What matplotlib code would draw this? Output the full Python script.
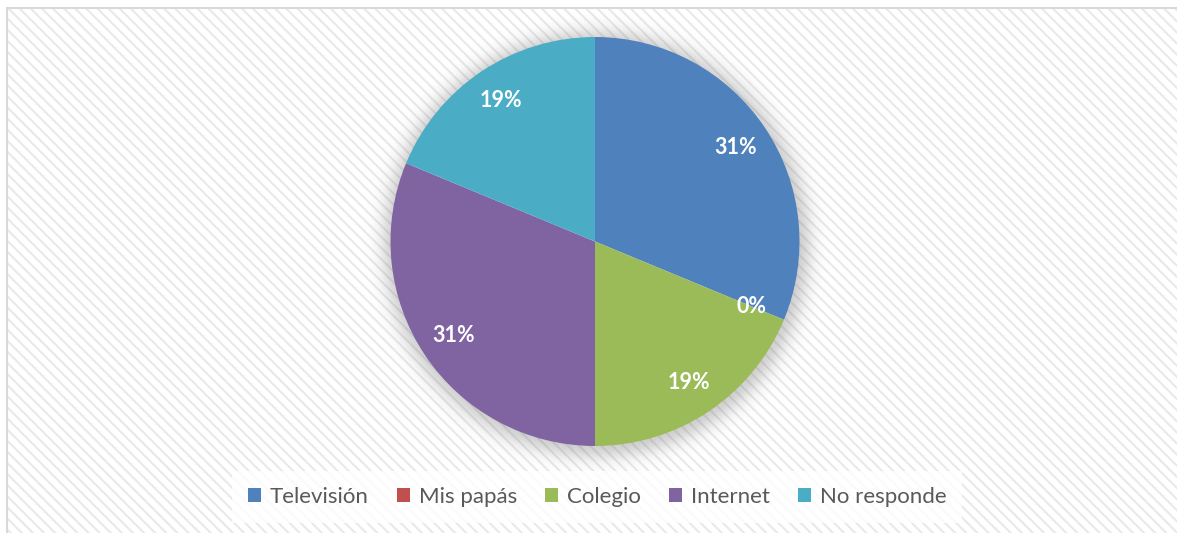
import numpy as np
import matplotlib.pyplot as plt
from matplotlib.patches import Rectangle, Wedge

plt.rcParams['font.family'] = ['Lato', 'DejaVu Sans']
plt.rcParams['hatch.linewidth'] = 1.5

# Survey answers (count of students per source)
labels = ['Televisión', 'Mis papás', 'Colegio', 'Internet', 'No responde']
counts = [5, 0, 3, 5, 3]
colors = ['#4F81BD', '#C0504D', '#9BBB59', '#8064A2', '#4BACC6']

W, H = 1177, 533
fig = plt.figure(figsize=(W / 100, H / 100), dpi=100)
ax = fig.add_axes([0, 0, 1, 1])

# chart area: striped background with thin grey border
ax.add_patch(Rectangle((6.5, -10), W + 10, H - 7.5 + 10, facecolor='white',
                       edgecolor='#e9e9e9', linewidth=0, hatch='\\\\\\', zorder=0))
ax.add_patch(Rectangle((6.5, -10), W + 10, H - 7.5 + 10, facecolor='none',
                       edgecolor='#d9d9d9', linewidth=1.5, zorder=1))

cx, cy, R = 595, H - 241.5, 204.5

# soft shadow around the pie, built from thin rings
for i in range(45):
    r_in = R - 4 + i
    a = 0.28 * np.exp(-((i + 0.5) / 15.0) ** 2)
    ax.add_patch(Wedge((cx + 1.5, cy - 2.5), r_in + 1, 0, 360, width=1,
                       facecolor='#505050', edgecolor='none', alpha=a, zorder=2))

wedges, texts, autotexts = ax.pie(
    counts, colors=colors, startangle=90, counterclock=False,
    center=(cx, cy), radius=R, autopct='%.0f%%', pctdistance=0.83,
    wedgeprops=dict(linewidth=0, zorder=3), frame=True,
    textprops=dict(color='white', fontsize=15.5, fontweight='bold'))
for t in autotexts:
    t.set_zorder(5)

ax.set_xlim(0, W)
ax.set_ylim(0, H)
ax.set_aspect('equal')
ax.axis('off')

leg = ax.legend(wedges, labels, loc='center', bbox_to_anchor=(597, H - 497),
                bbox_transform=ax.transData, ncol=5, frameon=True,
                fontsize=16, handlelength=0.6, handleheight=0.6,
                handletextpad=0.4, columnspacing=1.25, borderpad=0.7,
                borderaxespad=0, labelcolor='#595959')
frame = leg.get_frame()
frame.set_facecolor('white')
frame.set_alpha(0.8)
frame.set_edgecolor('none')
frame.set_boxstyle('square', pad=0.0)
leg.set_zorder(6)

fig.savefig('out.png', dpi=100)
